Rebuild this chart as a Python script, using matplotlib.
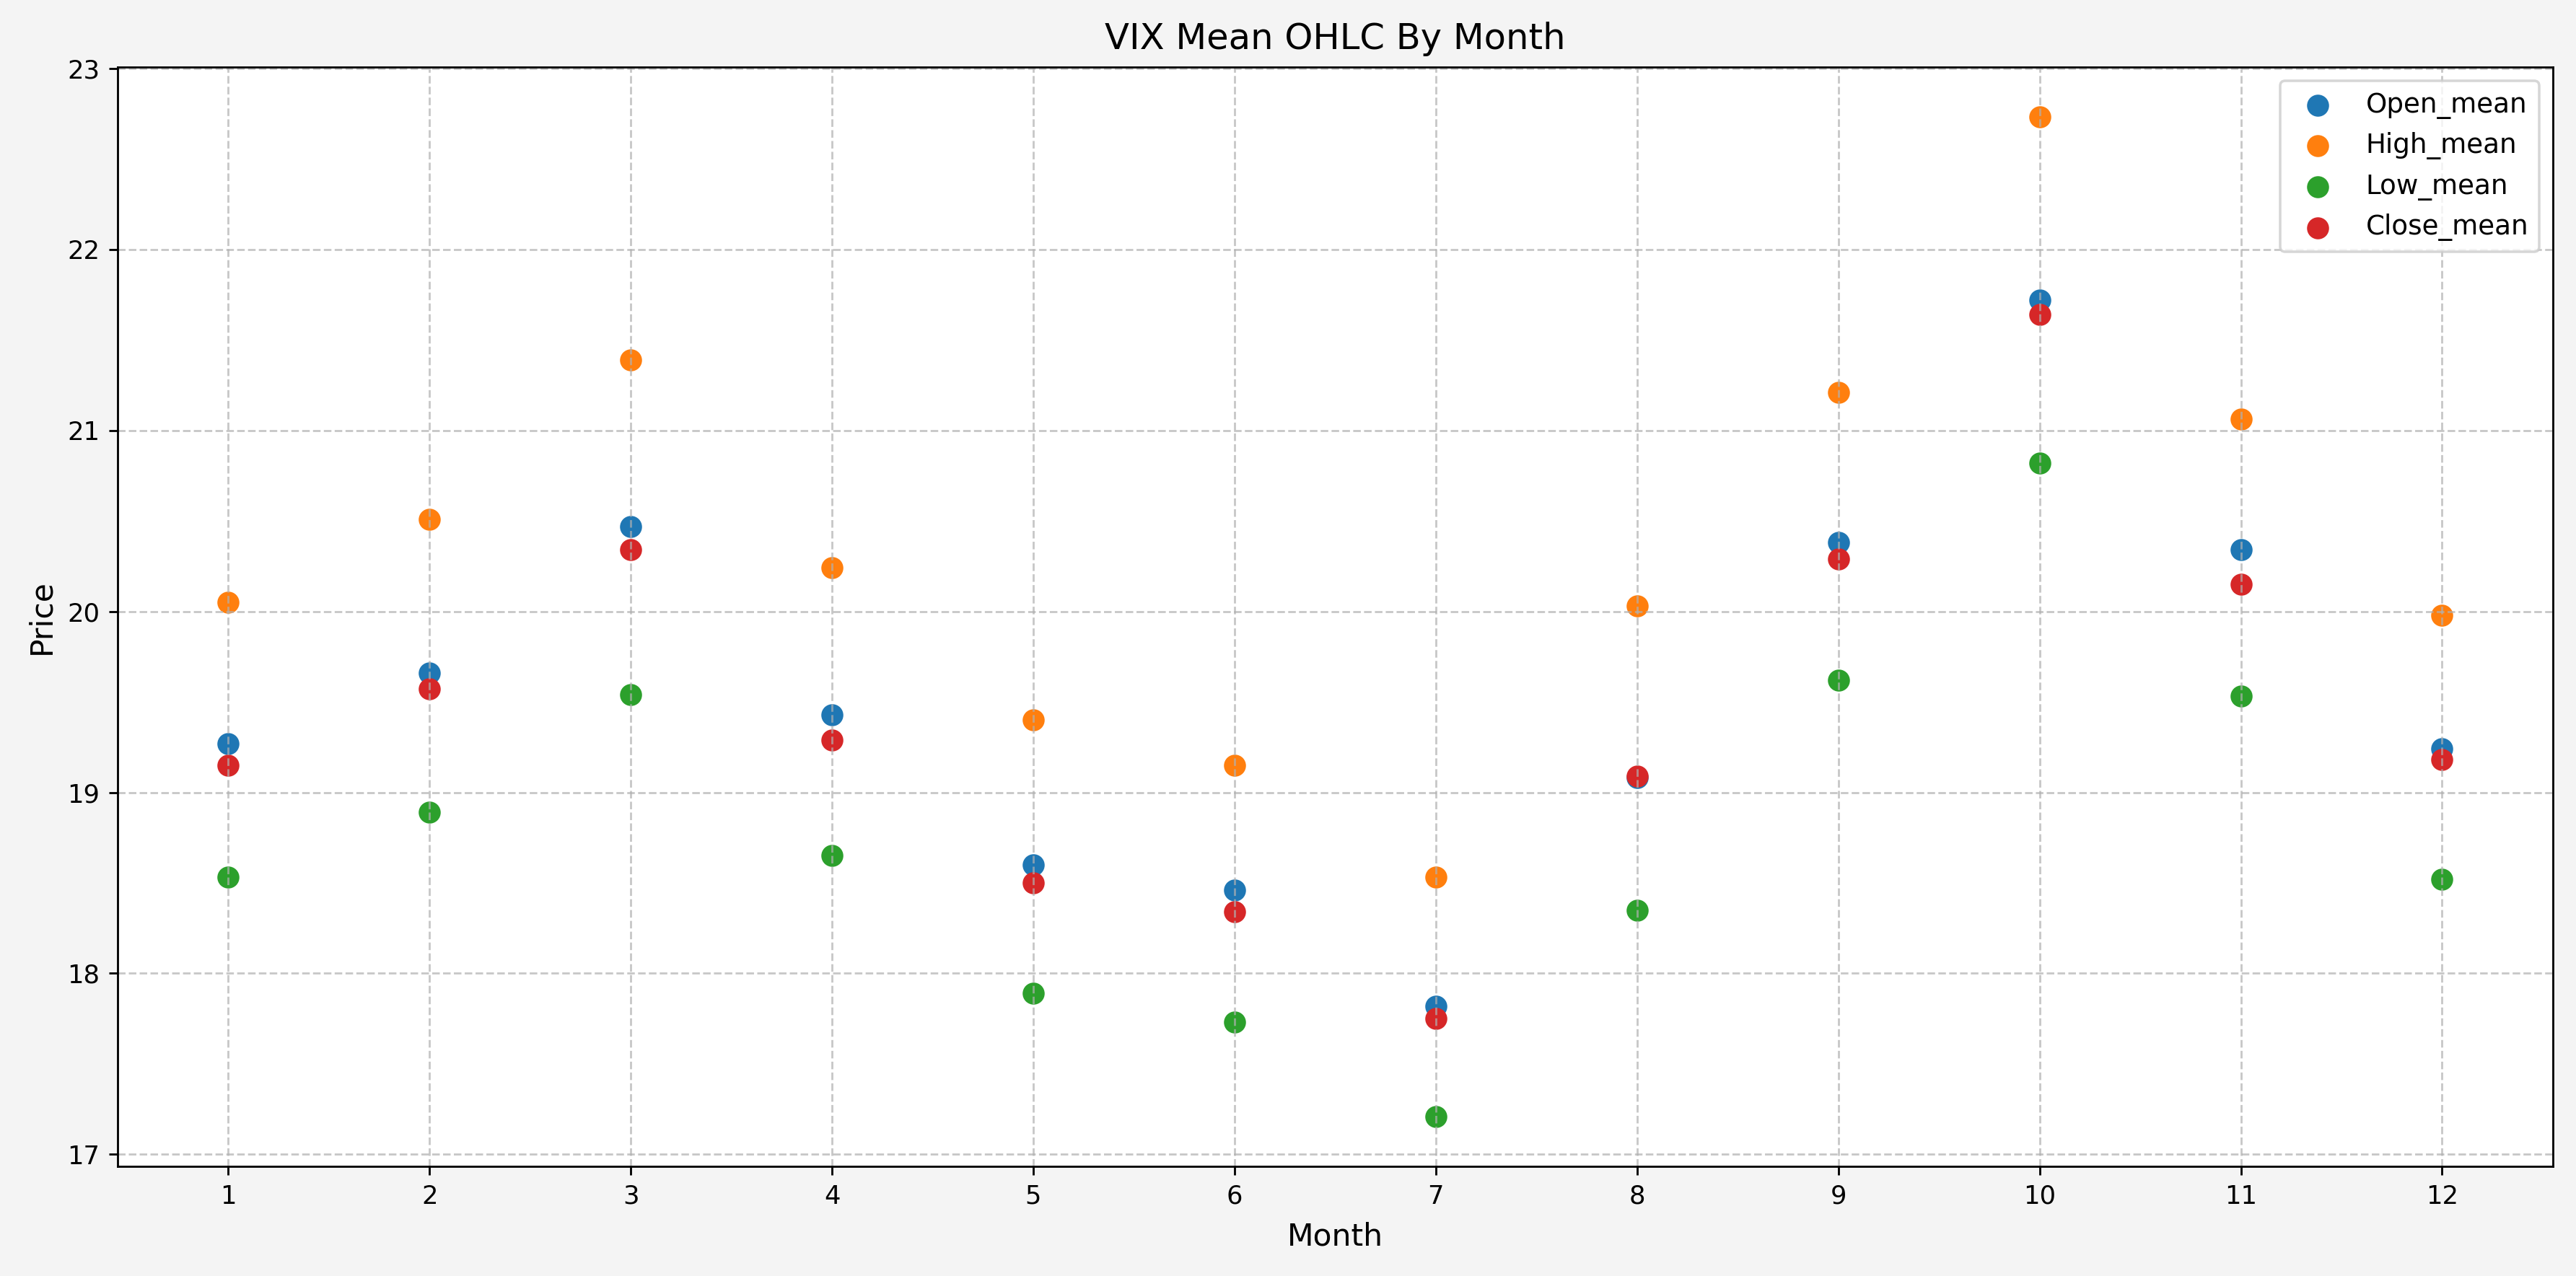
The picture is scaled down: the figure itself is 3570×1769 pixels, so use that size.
import numpy as np
import matplotlib
matplotlib.use("Agg")
import matplotlib.pyplot as plt

# monthly means of VIX OHLC
months = np.arange(1, 13)
open_mean = [19.27, 19.66, 20.47, 19.43, 18.60, 18.46, 17.82, 19.08, 20.38, 21.72, 20.34, 19.24]
high_mean = [20.05, 20.51, 21.39, 20.24, 19.40, 19.15, 18.53, 20.03, 21.21, 22.73, 21.06, 19.98]
low_mean = [18.53, 18.89, 19.54, 18.65, 17.89, 17.73, 17.21, 18.35, 19.62, 20.82, 19.53, 18.52]
close_mean = [19.15, 19.57, 20.34, 19.29, 18.50, 18.34, 17.75, 19.09, 20.29, 21.64, 20.15, 19.18]

series = {
    'Open_mean': open_mean,
    'High_mean': high_mean,
    'Low_mean': low_mean,
    'Close_mean': close_mean,
}

fig, ax = plt.subplots(figsize=(14, 1769 / 255), dpi=255)
fig.patch.set_facecolor('#f4f4f4')

for name, vals in series.items():
    ax.scatter(months, vals, s=58, label=name)

ax.set_title('VIX Mean OHLC By Month', fontsize=14, pad=7)
ax.set_xlabel('Month', fontsize=12, labelpad=5)
ax.set_ylabel('Price', fontsize=12)
ax.set_xticks(months)
ax.tick_params(labelsize=10)
ax.grid(True, linestyle='--', alpha=0.7)
ax.legend(loc='upper right', fontsize=10.5)

fig.subplots_adjust(left=0.0456, right=0.991, top=0.9474, bottom=0.0859)
fig.savefig('out.png', dpi=255, facecolor=fig.get_facecolor())
